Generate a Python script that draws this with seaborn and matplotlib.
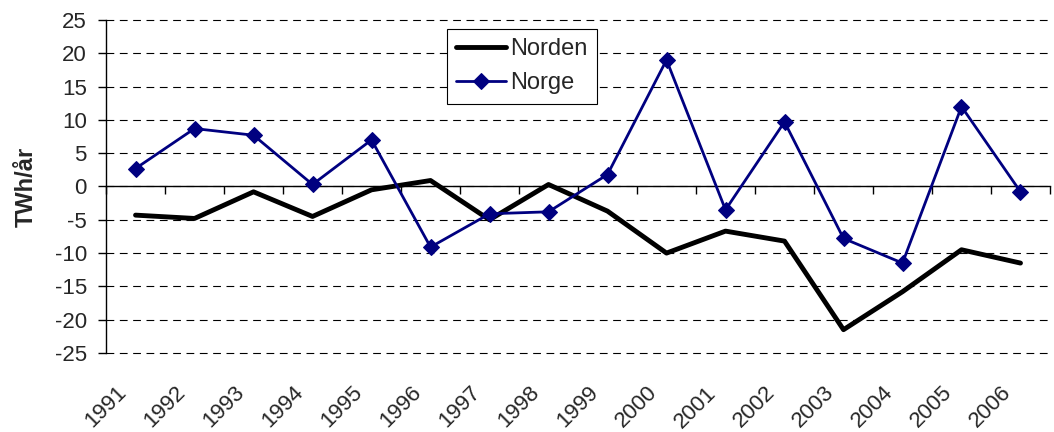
#!/usr/bin/env python3
"""Norden vs Norge, yearly values in TWh/år (1991-2006)."""

import pandas as pd
import seaborn as sns
from matplotlib import pyplot as plt
from matplotlib.transforms import ScaledTranslation

# chart data
years = [1991, 1992, 1993, 1994, 1995, 1996, 1997, 1998,
         1999, 2000, 2001, 2002, 2003, 2004, 2005, 2006]
norden = [-4.3, -4.8, -0.8, -4.5, -0.5, 0.9, -5.0, 0.3,
          -3.7, -10.0, -6.7, -8.2, -21.5, -15.8, -9.5, -11.5]
norge = [2.7, 8.7, 7.7, 0.3, 7.0, -9.1, -4.1, -3.8,
         1.8, 19.0, -3.5, 9.7, -7.8, -11.5, 12.0, -0.8]
yticks = list(range(-25, 30, 5))
ylabel = "TWh/år"


def main() -> None:
    df = pd.DataFrame({"Year": years, "Norden": norden, "Norge": norge})

    sns.set_theme(style="white")
    plt.rcParams["font.family"] = ["Liberation Sans", "DejaVu Sans"]

    fig = plt.figure(figsize=(10.54, 4.32), dpi=100)
    ax = fig.add_axes([0.1006, 0.1829, 0.8956, 0.7708])

    # dashed grid lines first so the data sits on top
    ax.set_yticks(yticks)
    ax.yaxis.grid(True, color="black", linewidth=0.8,
                  linestyle=(0, (7, 5)), zorder=0)
    ax.set_axisbelow(True)
    for gl in ax.yaxis.get_gridlines():
        gl.set_clip_on(False)

    sns.lineplot(data=df, x="Year", y="Norden", ax=ax, color="black",
                 linewidth=3.5, label="Norden", zorder=3)
    sns.lineplot(data=df, x="Year", y="Norge", ax=ax, color="#000080",
                 linewidth=2.0, marker="D", markersize=8,
                 markeredgecolor="#000080", label="Norge", zorder=4)

    ax.set_xlim(years[0] - 0.5, years[-1] + 0.5)
    ax.set_ylim(yticks[0], yticks[-1])

    # category axis crosses at zero, ticks between the categories
    for side in ("top", "right"):
        ax.spines[side].set_visible(False)
    ax.spines["bottom"].set_position(("data", 0))
    ax.spines["bottom"].set_color("black")
    ax.spines["bottom"].set_linewidth(1.0)
    ax.spines["left"].set_color("black")
    ax.spines["left"].set_linewidth(1.0)
    ax.set_xticks([y - 0.5 for y in years] + [years[-1] + 0.5])
    ax.tick_params(axis="x", bottom=True, direction="out", length=6,
                   width=1, color="black", labelbottom=False)
    ax.tick_params(axis="y", left=True, direction="out", length=5.8,
                   width=1, color="black", labelsize=16, pad=8)
    ax.set_yticklabels([str(t) for t in yticks])

    # year labels along the bottom of the plot area
    sec = ax.secondary_xaxis(0.0)
    sec.set_xticks(years)
    sec.set_xticklabels([str(y) for y in years], rotation=45, ha="right",
                        rotation_mode="anchor", fontsize=16)
    sec.tick_params(axis="x", length=0, pad=8)
    sec.spines["bottom"].set_visible(False)
    shift = ScaledTranslation(-0.2, -0.18, fig.dpi_scale_trans)
    for lab in sec.get_xticklabels():
        lab.set_transform(lab.get_transform() + shift)

    ax.set_xlabel("")
    ax.set_ylabel(ylabel, fontsize=17, fontweight="bold")
    ax.yaxis.set_label_coords(-0.072, 0.5)

    leg = ax.legend(loc="upper left", bbox_to_anchor=(0.361, 0.973),
                    borderaxespad=0, fontsize=17, frameon=True,
                    fancybox=False, edgecolor="black", framealpha=1,
                    handlelength=2.1, handletextpad=0.2, labelspacing=0.5,
                    borderpad=0.4)
    leg.get_frame().set_linewidth(0.8)

    fig.savefig("out.png", dpi=100)
    plt.close(fig)


if __name__ == "__main__":
    main()
